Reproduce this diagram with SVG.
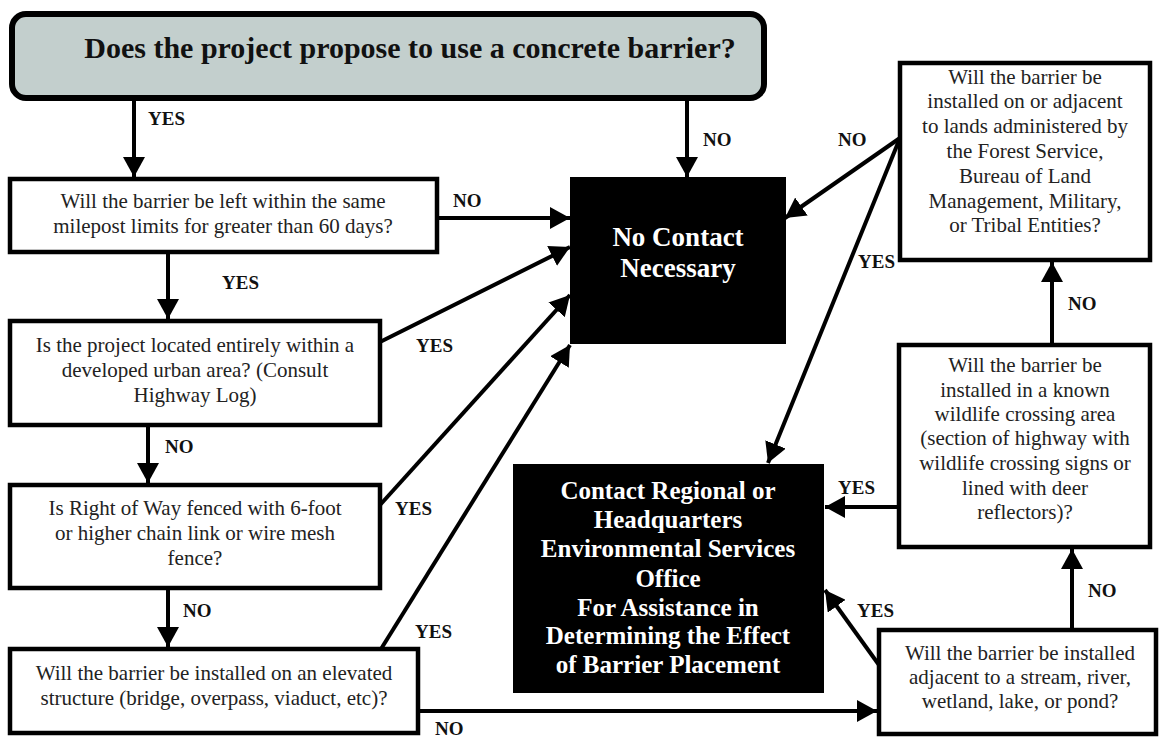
<svg xmlns="http://www.w3.org/2000/svg" width="1160" height="740" viewBox="0 0 1160 740">
<defs>
<marker id="ah" markerUnits="userSpaceOnUse" markerWidth="20" markerHeight="22" refX="20" refY="11" orient="auto">
<path d="M0,0 L20,11 L0,22 z" fill="#000"/>
</marker>
<style>
.box{fill:#fff;stroke:#000;stroke-width:4.5}
.dark{fill:#000;stroke:#000;stroke-width:2}
.t{font-family:"Liberation Serif","Times New Roman",serif;font-size:21px;fill:#222;text-anchor:middle}
.w{font-family:"Liberation Serif","Times New Roman",serif;font-weight:bold;fill:#fff;text-anchor:middle}
.lbl{font-family:"Liberation Serif","Times New Roman",serif;font-weight:bold;font-size:19px;fill:#111}
.c{fill:none;stroke:#000;stroke-width:4;marker-end:url(#ah)}
</style>
</defs>
<rect width="1160" height="740" fill="#fff"/>
<g id="start">
<rect x="12" y="14" width="752" height="84" rx="14" fill="#c3cfcd" stroke="#000" stroke-width="6"/>
<text x="410" y="58" style="font-family:'Liberation Serif','Times New Roman',serif;font-weight:bold;font-size:30px;fill:#111;text-anchor:middle">Does the project propose to use a concrete barrier?</text>
</g>
<g id="q1">
<rect class="box" x="10" y="179" width="427" height="73"/>
<text class="t" x="223" y="208">Will the barrier be left within the same</text>
<text class="t" x="223" y="233">milepost limits for greater than 60 days?</text>
</g>
<g id="q2">
<rect class="box" x="10" y="321" width="370" height="104"/>
<text class="t" x="195" y="352">Is the project located entirely within a</text>
<text class="t" x="195" y="377">developed urban area? (Consult</text>
<text class="t" x="195" y="402">Highway Log)</text>
</g>
<g id="q3">
<rect class="box" x="10" y="485" width="370" height="103"/>
<text class="t" x="195" y="515">Is Right of Way fenced with 6-foot</text>
<text class="t" x="195" y="540">or higher chain link or wire mesh</text>
<text class="t" x="195" y="565">fence?</text>
</g>
<g id="q4">
<rect class="box" x="10" y="649" width="408" height="84"/>
<text class="t" x="214" y="680">Will the barrier be installed on an elevated</text>
<text class="t" x="214" y="705">structure (bridge, overpass, viaduct, etc)?</text>
</g>
<g id="nocontact">
<rect class="dark" x="571" y="178" width="214" height="165"/>
<text class="w" x="678" y="246" font-size="27">No Contact</text>
<text class="w" x="678" y="277" font-size="27">Necessary</text>
</g>
<g id="contact">
<rect class="dark" x="514" y="465" width="309" height="227"/>
<text class="w" x="668" y="499" font-size="25">Contact Regional or</text>
<text class="w" x="668" y="528" font-size="25">Headquarters</text>
<text class="w" x="668" y="557" font-size="25">Environmental Services</text>
<text class="w" x="668" y="587" font-size="25">Office</text>
<text class="w" x="668" y="616" font-size="25">For Assistance in</text>
<text class="w" x="668" y="644" font-size="25">Determining the Effect</text>
<text class="w" x="668" y="673" font-size="25">of Barrier Placement</text>
</g>
<g id="q5">
<rect class="box" x="900" y="63" width="250" height="197"/>
<text class="t" x="1025" y="84">Will the barrier be</text>
<text class="t" x="1025" y="108">installed on or adjacent</text>
<text class="t" x="1025" y="133">to lands administered by</text>
<text class="t" x="1025" y="158">the Forest Service,</text>
<text class="t" x="1025" y="183">Bureau of Land</text>
<text class="t" x="1025" y="208">Management, Military,</text>
<text class="t" x="1025" y="232">or Tribal Entities?</text>
</g>
<g id="q6">
<rect class="box" x="899" y="345" width="251" height="202"/>
<text class="t" x="1025" y="372">Will the barrier be</text>
<text class="t" x="1025" y="397">installed in a known</text>
<text class="t" x="1025" y="421">wildlife crossing area</text>
<text class="t" x="1025" y="445">(section of highway with</text>
<text class="t" x="1025" y="470">wildlife crossing signs or</text>
<text class="t" x="1025" y="495">lined with deer</text>
<text class="t" x="1025" y="519">reflectors)?</text>
</g>
<g id="q7">
<rect class="box" x="879" y="630" width="277" height="104"/>
<text class="t" x="1020" y="660">Will the barrier be installed</text>
<text class="t" x="1020" y="684">adjacent to a stream, river,</text>
<text class="t" x="1020" y="708">wetland, lake, or pond?</text>
</g>
<g id="connectors">
<line class="c" x1="134" y1="101" x2="134" y2="177"/>
<line class="c" x1="687" y1="101" x2="687" y2="177"/>
<line class="c" x1="437" y1="218" x2="570" y2="218"/>
<line class="c" x1="168" y1="252" x2="168" y2="319"/>
<line class="c" x1="380" y1="342" x2="570" y2="247"/>
<line class="c" x1="148" y1="425" x2="148" y2="483"/>
<line class="c" x1="380" y1="505" x2="570" y2="295"/>
<line class="c" x1="168" y1="588" x2="168" y2="647"/>
<line class="c" x1="381" y1="649" x2="570" y2="345"/>
<line class="c" x1="418" y1="711" x2="877" y2="711"/>
<line class="c" x1="900" y1="138" x2="785" y2="218"/>
<line class="c" x1="900" y1="138" x2="768" y2="463"/>
<line class="c" x1="1052" y1="345" x2="1052" y2="262"/>
<line class="c" x1="899" y1="507" x2="825" y2="507"/>
<line class="c" x1="1072" y1="630" x2="1072" y2="549"/>
<line class="c" x1="879" y1="665" x2="825" y2="590"/>
</g>
<g id="labels">
<text class="lbl" x="148" y="125">YES</text>
<text class="lbl" x="703" y="146">NO</text>
<text class="lbl" x="453" y="207">NO</text>
<text class="lbl" x="838" y="146">NO</text>
<text class="lbl" x="222" y="289">YES</text>
<text class="lbl" x="416" y="352">YES</text>
<text class="lbl" x="858" y="268">YES</text>
<text class="lbl" x="1068" y="310">NO</text>
<text class="lbl" x="165" y="453">NO</text>
<text class="lbl" x="838" y="494">YES</text>
<text class="lbl" x="395" y="515">YES</text>
<text class="lbl" x="1088" y="597">NO</text>
<text class="lbl" x="183" y="617">NO</text>
<text class="lbl" x="857" y="617">YES</text>
<text class="lbl" x="415" y="638">YES</text>
<text class="lbl" x="435" y="735" font-size="18">NO</text>
</g>
</svg>
